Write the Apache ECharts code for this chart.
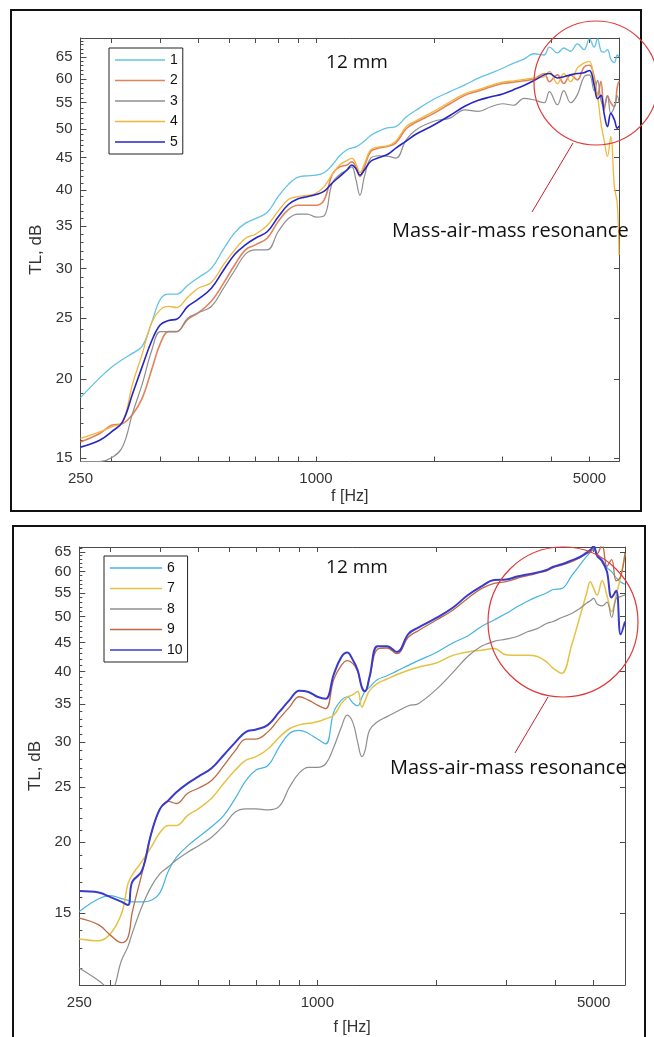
<!DOCTYPE html>
<html><head><meta charset="utf-8">
<script src="https://cdn.jsdelivr.net/npm/echarts@6/dist/echarts.min.js"></script>
<style>html,body{margin:0;padding:0;background:#fff}#c{width:654px;height:1037px}</style>
</head><body><div id="c"></div>
<script>
// ---------- data ----------
const freqTop = [250, 280, 300, 320, 340, 360, 380, 400, 420, 440, 470, 500, 540, 580, 620, 660, 700, 750, 800, 850, 900, 950, 1000, 1050, 1100, 1150, 1200, 1234, 1265, 1295, 1330, 1380, 1450, 1530, 1600, 1700, 1800, 2000, 2200, 2400, 2600, 2800, 3000, 3200, 3400, 3600, 3830, 3950, 4140, 4300, 4475, 4655, 4845, 5000, 5140, 5245, 5350, 5450, 5560, 5670, 5790, 5890, 5950];
const tl1 = [18.7, 20.1, 20.9, 21.5, 22.0, 22.6, 24.6, 26.8, 27.3, 27.3, 28.2, 29.0, 30.0, 32.2, 34.2, 35.4, 36.0, 36.8, 39.0, 40.8, 41.9, 42.1, 42.2, 42.6, 43.8, 45.3, 46.3, 46.6, 46.8, 47.2, 47.8, 48.8, 49.6, 50.2, 50.4, 52.2, 53.5, 55.7, 57.3, 58.7, 60.2, 61.3, 62.4, 63.6, 64.5, 65.8, 65.5, 67.4, 66.0, 67.2, 66.4, 68.2, 66.8, 69.5, 67.4, 69.5, 66.5, 66.2, 66.8, 64.5, 63.7, 65.5, 65.0];
const tl2 = [15.9, 16.4, 16.9, 17.0, 17.6, 18.7, 20.7, 22.8, 23.8, 23.8, 24.9, 25.5, 26.6, 28.4, 30.4, 32.1, 32.7, 33.5, 35.6, 37.2, 37.8, 37.8, 37.8, 38.6, 42.3, 43.5, 43.8, 44.3, 43.5, 42.0, 43.5, 46.0, 46.6, 46.9, 47.5, 50.0, 51.2, 52.9, 54.8, 56.5, 57.4, 58.3, 59.0, 59.3, 59.6, 60.0, 61.2, 59.4, 60.9, 59.0, 60.9, 59.8, 62.7, 63.1, 60.5, 56.4, 59.5, 53.6, 56.4, 55.0, 54.2, 58.3, 59.5];
const tl3 = [14.8, 14.8, 15.0, 15.6, 17.7, 19.7, 22.2, 23.8, 23.8, 23.8, 25.0, 25.5, 26.1, 27.9, 29.8, 31.6, 32.1, 32.1, 34.3, 36.0, 36.6, 36.6, 36.2, 36.4, 41.0, 42.3, 43.0, 43.5, 41.5, 39.2, 42.0, 44.9, 45.3, 45.2, 44.9, 48.0, 49.8, 51.4, 52.0, 53.6, 53.3, 54.2, 54.8, 54.5, 55.9, 55.6, 55.0, 57.3, 54.6, 57.5, 55.0, 56.6, 60.5, 60.9, 57.5, 59.7, 55.5, 54.2, 56.4, 52.9, 54.2, 56.4, 55.0];
const tl4 = [16.1, 16.5, 16.8, 17.1, 19.7, 22.0, 24.6, 25.8, 26.1, 26.0, 27.0, 27.9, 28.5, 30.4, 32.1, 33.5, 34.0, 35.1, 37.0, 38.6, 39.0, 39.2, 39.5, 40.5, 42.3, 43.8, 44.5, 44.9, 44.0, 42.6, 44.0, 46.3, 46.8, 47.0, 47.8, 50.4, 51.5, 53.3, 55.2, 56.8, 57.7, 58.6, 59.3, 59.6, 59.9, 60.2, 60.5, 61.7, 59.0, 61.2, 59.4, 62.4, 63.6, 64.0, 59.7, 56.4, 51.0, 48.0, 45.2, 48.6, 40.5, 38.0, 31.5];
const tl5 = [15.6, 16.0, 16.5, 17.1, 19.0, 21.0, 23.0, 24.4, 24.8, 24.9, 26.1, 26.8, 27.9, 29.8, 31.6, 32.7, 33.5, 34.3, 36.2, 37.9, 38.7, 39.0, 39.3, 39.8, 41.0, 42.0, 43.0, 43.8, 43.2, 42.2, 43.0, 44.4, 45.0, 45.6, 46.6, 47.8, 49.0, 50.7, 52.5, 54.3, 55.5, 56.2, 56.8, 57.7, 58.6, 59.6, 60.9, 61.2, 60.2, 60.5, 60.9, 61.2, 61.4, 61.9, 58.7, 55.8, 56.5, 52.9, 50.4, 52.9, 51.7, 50.1, 50.5];

const freqBottom = [250, 280, 300, 320, 332, 340, 360, 380, 400, 420, 440, 470, 500, 540, 580, 620, 660, 700, 750, 800, 850, 900, 950, 1000, 1050, 1100, 1150, 1190, 1230, 1265, 1296, 1320, 1355, 1420, 1500, 1590, 1700, 1800, 2000, 2200, 2400, 2600, 2800, 3000, 3200, 3400, 3600, 3800, 3950, 4150, 4400, 4600, 4800, 4900, 5000, 5100, 5250, 5400, 5550, 5700, 5850, 6000];
const tl6 = [15.1, 15.9, 16.1, 15.9, 15.8, 15.7, 15.7, 15.8, 16.3, 17.8, 18.8, 19.7, 20.4, 21.3, 22.3, 23.9, 25.7, 26.8, 27.3, 29.4, 31.1, 31.5, 31.1, 30.4, 29.8, 33.9, 35.6, 36.1, 35.2, 34.8, 36.0, 36.9, 37.5, 38.7, 39.3, 40.1, 41.0, 41.8, 43.2, 44.9, 46.2, 48.0, 49.3, 50.6, 52.0, 53.2, 54.2, 55.0, 55.8, 56.0, 59.0, 61.5, 63.8, 64.8, 65.6, 64.5, 63.0, 61.0, 60.0, 58.5, 57.5, 57.0];
const tl7 = [13.5, 13.4, 13.8, 15.0, 16.9, 17.5, 18.5, 19.6, 20.8, 21.4, 21.4, 22.3, 22.9, 23.9, 25.4, 26.8, 27.9, 28.3, 29.2, 30.6, 31.7, 32.2, 32.4, 32.6, 33.0, 33.5, 35.1, 36.0, 36.4, 36.9, 34.6, 35.5, 37.0, 38.1, 38.8, 39.5, 40.2, 40.7, 41.4, 42.7, 43.3, 43.6, 43.9, 42.8, 42.7, 42.7, 42.5, 41.6, 40.5, 39.7, 44.6, 49.6, 55.0, 57.6, 56.0, 54.5, 57.8, 54.5, 51.0, 54.5, 58.8, 64.5];
const tl8 = [12.0, 11.4, 11.0, 12.4, 13.1, 13.8, 15.4, 16.7, 17.6, 18.1, 18.6, 19.2, 19.7, 20.4, 21.4, 22.6, 22.9, 22.9, 22.8, 23.1, 25.0, 26.5, 27.1, 27.1, 27.5, 29.4, 31.9, 33.5, 32.5, 30.0, 28.3, 29.0, 31.5, 32.6, 33.3, 34.0, 34.8, 35.1, 37.2, 39.8, 42.5, 44.3, 45.2, 45.6, 46.1, 47.0, 47.6, 48.6, 49.0, 49.8, 50.6, 51.6, 52.8, 53.3, 53.8, 52.6, 52.2, 53.0, 49.8, 53.8, 54.2, 54.6];
const tl9 = [14.7, 14.3, 13.7, 13.3, 13.6, 15.0, 17.6, 20.7, 22.9, 23.6, 23.4, 24.4, 24.9, 25.7, 27.3, 29.0, 30.4, 30.4, 31.3, 33.0, 34.6, 36.1, 35.6, 34.9, 34.4, 38.7, 41.0, 41.8, 41.3, 40.0, 37.5, 36.9, 39.0, 43.8, 44.0, 43.0, 46.0, 47.2, 49.3, 51.3, 53.8, 56.0, 57.2, 57.6, 58.4, 59.0, 59.6, 60.2, 61.0, 61.6, 62.5, 63.4, 64.5, 65.0, 66.0, 64.5, 67.0, 61.3, 63.0, 57.8, 58.8, 64.7];
const tl10 = [16.4, 16.3, 16.0, 15.7, 15.5, 17.0, 17.8, 20.7, 22.9, 23.7, 24.5, 25.4, 26.1, 27.0, 28.5, 30.0, 31.3, 31.6, 32.2, 33.9, 35.6, 37.0, 36.8, 36.1, 35.8, 39.5, 42.4, 43.2, 41.9, 40.2, 37.5, 36.9, 39.1, 44.3, 44.3, 43.3, 46.6, 47.8, 49.7, 51.8, 54.5, 56.5, 58.0, 58.1, 58.8, 59.3, 59.8, 60.4, 61.2, 61.8, 62.8, 63.6, 64.8, 65.5, 66.5, 64.0, 62.6, 60.0, 54.0, 55.5, 46.5, 49.0];

const xTickLabels = [250, 1000, 5000];
const xTickMarks = [300, 400, 500, 600, 700, 800, 900, 1000, 2000, 3000, 4000, 5000];
const yTickLabels = [15, 20, 25, 30, 35, 40, 45, 50, 55, 60, 65];
const yMinorTop = [];
for (let v = 15; v <= 69; v++) yMinorTop.push(v);
const yMinorBottom = [];
for (let v = 12; v <= 66; v++) yMinorBottom.push(v);

const namesTop = ['1', '2', '3', '4', '5'];
const namesBottom = ['6', '7', '8', '9', '10'];
const colorsTop = ['#62c3e6', '#e2835c', '#8e8e8e', '#f2b73a', '#2626c4'];
const colorsBottom = ['#45b4e2', '#e4c244', '#8e8e8e', '#bd6a44', '#3a3acc'];
const widthsTop = [1.3, 1.6, 1.2, 1.3, 1.6];
const widthsBottom = [1.2, 1.5, 1.2, 1.3, 2.0];

// ---------- chart ----------
const FONT = 'Liberation Sans, Arial, sans-serif';
const AX = '#4a4a4a';
function pairs(fs, vs) { return fs.map((f, i) => [f, vs[i]]); }
const plain = (v) => String(v);

function xAxesFor(gridIndex, max, nameGap) {
  const common = {
    type: 'log', logBase: 10, gridIndex: gridIndex, min: 250, max: max,
    axisLine: { show: true, lineStyle: { color: AX, width: 1 } },
    axisTick: { show: true, inside: true, length: 5, customValues: xTickMarks, lineStyle: { color: AX, width: 1 } },
    splitLine: { show: false }, minorTick: { show: false }, minorSplitLine: { show: false }
  };
  return [
    Object.assign({}, common, {
      position: 'bottom',
      axisLabel: { show: true, customValues: xTickLabels, formatter: plain, margin: 10, fontSize: 15, color: '#333', fontFamily: FONT },
      name: 'f [Hz]', nameLocation: 'middle', nameGap: nameGap,
      nameTextStyle: { fontSize: 16, color: '#333', fontFamily: FONT }
    }),
    Object.assign({}, common, { position: 'top', axisLabel: { show: false } })
  ];
}
function yAxesFor(gridIndex, min, max, minorTicks) {
  const base = { type: 'log', logBase: 10, gridIndex: gridIndex, min: min, max: max, splitLine: { show: false }, minorTick: { show: false } };
  return [
    Object.assign({}, base, {
      position: 'left',
      axisLine: { show: true, lineStyle: { color: AX, width: 1 } },
      axisTick: { show: true, inside: true, length: 3, customValues: minorTicks, lineStyle: { color: AX, width: 1 } },
      axisLabel: { show: true, customValues: yTickLabels, formatter: plain, margin: 8, fontSize: 15, color: '#333', fontFamily: FONT },
      name: 'TL, dB', nameLocation: 'middle', nameGap: 32, nameRotate: 90,
      nameTextStyle: { fontSize: 17, color: '#333', fontFamily: FONT }
    }),
    Object.assign({}, base, {
      position: 'left',
      axisLine: { show: false },
      axisTick: { show: true, inside: true, length: 6, customValues: yTickLabels, lineStyle: { color: AX, width: 1 } },
      axisLabel: { show: false }
    }),
    Object.assign({}, base, {
      position: 'right',
      axisLine: { show: true, lineStyle: { color: AX, width: 1 } },
      axisTick: { show: true, inside: true, length: 5, customValues: yTickLabels, lineStyle: { color: AX, width: 1 } },
      axisLabel: { show: false }
    })
  ];
}

const series = [];
[tl1, tl2, tl3, tl4, tl5].forEach((vals, i) => {
  series.push({ name: namesTop[i], type: 'line', xAxisIndex: 0, yAxisIndex: 0, data: pairs(freqTop, vals),
    symbol: 'none', showSymbol: false, smooth: 0.4, clip: true,
    lineStyle: { color: colorsTop[i], width: widthsTop[i] }, itemStyle: { color: colorsTop[i] }, z: 2 + i });
});
[tl6, tl7, tl8, tl9, tl10].forEach((vals, i) => {
  series.push({ name: namesBottom[i], type: 'line', xAxisIndex: 2, yAxisIndex: 3, data: pairs(freqBottom, vals),
    symbol: 'none', showSymbol: false, smooth: 0.4, clip: true,
    lineStyle: { color: colorsBottom[i], width: widthsBottom[i] }, itemStyle: { color: colorsBottom[i] }, z: 2 + i });
});

function legendFor(data, left, top, w) {
  return {
    data: data, orient: 'vertical', left: left, top: top,
    icon: 'rect', itemWidth: w, itemHeight: 1.6, itemGap: 4.5,
    textStyle: { fontSize: 14, color: '#111', fontFamily: FONT, lineHeight: 16 },
    borderColor: '#222', borderWidth: 1, padding: [4, 5, 4, 6], backgroundColor: '#fff',
    selectedMode: false
  };
}

const titleFont = '19px "Open Sans", "Noto Sans", sans-serif';
const annoFont = '20px "Open Sans", "Noto Sans", sans-serif';
const option = {
  backgroundColor: '#fff',
  animation: false,
  grid: [
    { left: 80.5, top: 38, width: 538.5, height: 423.5, containLabel: false, outerBoundsMode: 'none', show: false },
    { left: 79.3, top: 547, width: 545.7, height: 438, containLabel: false, outerBoundsMode: 'none', show: false }
  ],
  xAxis: xAxesFor(0, 5950, 27).concat(xAxesFor(1, 6000, 35)),
  yAxis: yAxesFor(0, 14.8, 69.7, yMinorTop).concat(yAxesFor(1, 11.2, 66.3, yMinorBottom)),
  legend: [legendFor(namesTop, 109, 48, 50), legendFor(namesBottom, 104, 556, 52)],
  series: series,
  graphic: [
    { type: 'rect', shape: { x: 11, y: 10, width: 630, height: 501 }, style: { fill: 'none', stroke: '#111', lineWidth: 2 }, z: 100 },
    { type: 'rect', shape: { x: 13, y: 526, width: 632, height: 520 }, style: { fill: 'none', stroke: '#111', lineWidth: 2 }, z: 100 },
    { type: 'text', x: 357, y: 63, style: { text: '12 mm', font: titleFont, fill: '#111', align: 'center', verticalAlign: 'middle' }, z: 100 },
    { type: 'text', x: 357, y: 568, style: { text: '12 mm', font: titleFont, fill: '#111', align: 'center', verticalAlign: 'middle' }, z: 100 },
    { type: 'circle', shape: { cx: 596, cy: 83, r: 62 }, style: { fill: 'none', stroke: '#e0383a', lineWidth: 1.2 }, z: 100 },
    { type: 'circle', shape: { cx: 563, cy: 622, r: 75 }, style: { fill: 'none', stroke: '#e0383a', lineWidth: 1.2 }, z: 100 },
    { type: 'line', shape: { x1: 573, y1: 143, x2: 532, y2: 212 }, style: { stroke: '#c8202a', lineWidth: 1 }, z: 100 },
    { type: 'line', shape: { x1: 548, y1: 697, x2: 515, y2: 753 }, style: { stroke: '#c8202a', lineWidth: 1 }, z: 100 },
    { type: 'text', x: 392, y: 231, style: { text: 'Mass-air-mass resonance', font: annoFont, fill: '#111', align: 'left', verticalAlign: 'middle' }, z: 100 },
    { type: 'text', x: 390, y: 768, style: { text: 'Mass-air-mass resonance', font: annoFont, fill: '#111', align: 'left', verticalAlign: 'middle' }, z: 100 }
  ]
};
const chart = echarts.init(document.getElementById('c'), null, { renderer: 'canvas' });
chart.setOption(option);
</script></body></html>
